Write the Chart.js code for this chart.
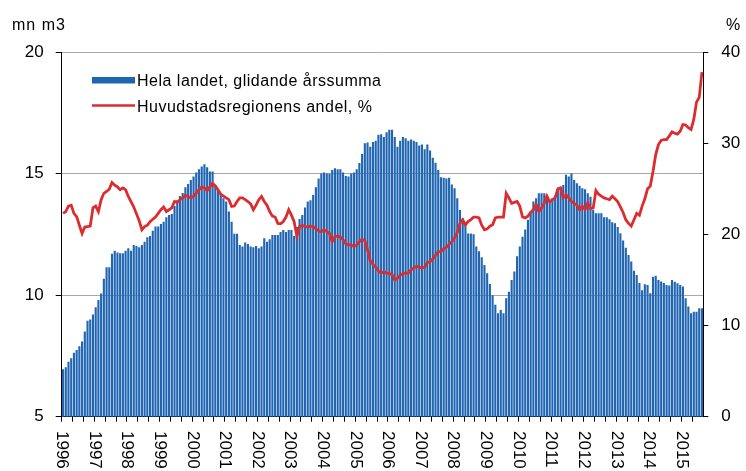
<!DOCTYPE html>
<html>
<head>
<meta charset="utf-8">
<script src="https://cdn.jsdelivr.net/npm/chart.js@4/dist/chart.umd.min.js"></script>
<style>
  html, body { margin: 0; padding: 0; background: #fff; }
</style>
</head>
<body>
<canvas id="chart" width="746" height="471"></canvas>
<script>
// year labels on the x axis (one per January)
const years = [1996, 1997, 1998, 1999, 2000, 2001, 2002, 2003, 2004, 2005,
               2006, 2007, 2008, 2009, 2010, 2011, 2012, 2013, 2014, 2015];

// Hela landet, glidande årssumma (mn m3), monthly 1996-01 .. 2015-08
const volym = [
  6.95, 7.03, 7.26, 7.4, 7.63, 7.74, 7.9, 8.09, 8.5, 8.95,
  9.0, 9.2, 9.5, 9.8, 10.07, 10.67, 11.15, 11.15, 11.7, 11.83,
  11.75, 11.72, 11.72, 11.83, 11.93, 11.83, 12.06, 12.02, 11.97, 12.06,
  12.2, 12.38, 12.43, 12.65, 12.82, 12.82, 12.93, 13.02, 13.2, 13.3,
  13.34, 13.67, 13.9, 14.08, 14.2, 14.44, 14.57, 14.74, 14.88, 15.04,
  15.18, 15.29, 15.38, 15.26, 15.08, 15.08, 14.53, 14.3, 14.12, 13.98,
  13.85, 13.44, 13.02, 12.52, 12.52, 12.06, 12.0, 12.16, 12.1, 12.0,
  11.97, 12.02, 11.93, 12.0, 12.34, 12.2, 12.3, 12.47, 12.47, 12.47,
  12.6, 12.68, 12.6, 12.68, 12.68, 12.43, 12.8, 13.13, 13.3, 13.6,
  13.85, 13.9, 14.12, 14.44, 14.8, 15.0, 15.04, 15.0, 14.99, 15.15,
  15.22, 15.18, 15.18, 15.04, 14.9, 14.88, 15.0, 15.04, 15.18, 15.43,
  15.8, 16.25, 16.28, 16.1, 16.3, 16.35, 16.6,
  16.62, 16.5, 16.7, 16.8, 16.8, 16.5, 16.1, 16.35, 16.5, 16.45,
  16.35, 16.4, 16.35, 16.3, 16.15, 16.2, 16.0, 16.2, 15.95, 15.65,
  15.45, 15.15, 14.85, 14.83, 14.8, 14.83, 14.55, 14.4, 13.98, 13.5,
  13.16, 12.9, 12.54, 12.54, 12.5, 12.0, 11.8, 11.56, 11.24, 10.9,
  10.46, 10.0, 9.6, 9.25, 9.39, 9.25, 9.87, 10.14, 10.62, 10.97,
  11.6, 12.0, 12.4, 12.7, 13.1, 13.44, 13.85, 13.98, 14.19, 14.19,
  14.19, 14.12, 13.9, 13.98, 14.1, 14.33, 14.4, 14.53, 14.95, 14.88,
  15.0, 14.74, 14.6, 14.5, 14.4, 14.35, 14.19, 14.05, 13.5, 13.37,
  13.37, 13.37, 13.2, 13.2, 13.12, 13.0, 12.96, 12.8, 12.55, 12.25,
  11.95, 11.65, 11.38, 11.0, 10.83, 10.5, 10.2, 10.45, 10.42, 10.08,
  10.76, 10.8, 10.62, 10.56, 10.5, 10.42, 10.4, 10.62, 10.55, 10.49,
  10.42, 10.35, 9.87, 9.53, 9.25, 9.32, 9.32, 9.46, 9.46
];

// Huvudstadsregionens andel, %
const andel = [
  22.3, 22.5, 23.1, 23.2, 22.3, 21.95, 21.0, 20.1, 20.8, 20.85,
  20.9, 22.9, 23.1, 22.5, 23.8, 24.5, 24.7, 24.95, 25.7, 25.4,
  25.2, 24.9, 25.1, 24.9, 24.15, 23.6, 23.0, 22.25, 21.5, 20.5,
  20.85, 21.0, 21.4, 21.66, 21.9, 22.3, 22.7, 23.0, 22.5, 22.7,
  22.9, 23.6, 23.5, 23.8, 24.0, 24.3, 24.15, 24.0, 24.2, 24.5,
  24.9, 25.2, 25.1, 24.8, 25.2, 25.6, 25.3, 24.9, 24.4, 24.2,
  24.0, 23.8, 23.05, 23.1, 23.6, 24.0, 24.0, 23.8, 23.6, 23.35,
  22.7, 23.2, 23.8, 24.15, 23.6, 23.2, 22.5, 22.0, 21.9, 21.2,
  21.15, 21.4, 21.9, 22.7, 22.1, 21.4, 19.8, 20.85, 21.0, 20.85,
  20.8, 20.9, 20.85, 20.6, 20.4, 20.3, 20.5, 20.3, 20.1, 19.2,
  19.75, 19.8, 19.7, 19.4, 18.95, 18.85, 18.85, 18.66, 18.85, 19.2,
  19.47, 19.3, 18.3, 17.1, 16.7, 16.4, 16.0,
  15.75, 15.9, 15.75, 15.7, 15.6, 15.0, 15.2, 15.5, 15.7, 15.75,
  15.75, 16.1, 16.3, 16.5, 16.4, 16.3, 16.4, 16.9, 17.0, 17.3,
  17.7, 18.1, 18.1, 18.4, 18.6, 18.9, 19.2, 19.6, 20.2, 21.2,
  21.6, 21.05, 21.4, 21.6, 21.9, 21.9, 21.8, 21.0, 20.5, 20.6,
  20.9, 21.05, 21.8, 21.9, 21.9, 21.9, 24.5, 24.0, 23.4, 23.5,
  23.6, 23.1, 21.9, 21.8, 22.0, 22.4, 22.7, 23.3, 22.5, 22.9,
  23.4, 24.2, 23.55, 23.8, 24.0, 25.0, 25.1, 24.0, 24.35, 24.0,
  23.6, 23.4, 23.2, 22.7, 23.1, 22.7, 23.45, 22.8, 22.9, 24.8,
  24.4, 24.2, 24.0, 23.9, 23.8, 24.2, 23.9, 23.6, 23.0, 22.4,
  21.6, 21.2, 20.9, 21.6, 22.3, 22.1, 23.1, 23.9, 25.0, 25.3,
  26.9, 28.75, 29.85, 30.3, 30.4, 30.4, 30.8, 31.25, 31.1, 31.0,
  31.3, 32.05, 32.0, 31.7, 31.5, 32.6, 34.5, 35.0, 37.8
];

const months = [];
years.forEach(y => { for (let m = 1; m <= 12; m++) months.push(y + '-' + m); });
const labels = months.slice(0, volym.length);

const FONT = '"Liberation Sans", Arial, sans-serif';
Chart.defaults.font.family = FONT;
Chart.defaults.color = '#000';

// year labels (rotated downwards), legend and axis units
const extras = {
  id: 'extras',
  afterDraw(chart) {
    const ctx = chart.ctx;
    const x = chart.scales.x;
    const half = (x.getPixelForValue(1) - x.getPixelForValue(0)) / 2;
    ctx.save();
    ctx.fillStyle = '#000';
    ctx.font = '17px ' + FONT;
    years.forEach((yr, k) => {
      const px = x.getPixelForValue(k * 12) - half;
      ctx.save();
      ctx.translate(px, 431);
      ctx.rotate(Math.PI / 2);
      ctx.textAlign = 'left';
      ctx.textBaseline = 'middle';
      ctx.fillText(String(yr), 0, 0);
      ctx.restore();
    });

    ctx.textBaseline = 'alphabetic';
    ctx.font = '16px ' + FONT;
    ctx.letterSpacing = '1px';
    ctx.fillText('mn m3', 12, 30);
    ctx.letterSpacing = '0px';
    ctx.fillText('%', 726, 30);

    // legend
    const ds = chart.data.datasets;
    ctx.fillStyle = ds[0].backgroundColor;
    ctx.fillRect(92, 77, 43, 6.5);
    ctx.strokeStyle = ds[1].borderColor;
    ctx.lineWidth = 2.6;
    ctx.beginPath();
    ctx.moveTo(92, 105.5);
    ctx.lineTo(135, 105.5);
    ctx.stroke();
    ctx.fillStyle = '#000';
    ctx.letterSpacing = '0.5px';
    ctx.fillText(ds[0].label, 137, 86);
    ctx.fillText(ds[1].label, 137, 112);
    ctx.restore();
  }
};

new Chart(document.getElementById('chart'), {
  type: 'bar',
  data: {
    labels: labels,
    datasets: [{
      label: 'Hela landet, glidande årssumma',
      data: volym,
      yAxisID: 'y',
      backgroundColor: '#1f65b2',
      barPercentage: 0.78,
      categoryPercentage: 1,
      order: 1
    }, {
      type: 'line',
      label: 'Huvudstadsregionens andel, %',
      data: andel,
      yAxisID: 'y2',
      borderColor: '#dd2c2f',
      borderWidth: 2.8,
      pointRadius: 0,
      tension: 0,
      order: 0
    }]
  },
  options: {
    responsive: false,
    animation: false,
    layout: { padding: { top: 52, left: 0, right: 0, bottom: 0 } },
    plugins: { legend: { display: false }, tooltip: { enabled: false } },
    scales: {
      x: {
        offset: true,
        grid: {
          offset: true,
          drawOnChartArea: false,
          tickLength: 5,
          color: c => (c.index !== undefined && c.index % 4 === 0) ? '#000' : 'rgba(0,0,0,0)'
        },
        border: { color: '#000' },
        ticks: { display: false, autoSkip: false },
        afterFit: s => { s.height = 54.3; }
      },
      y: {
        position: 'left',
        min: 5,
        max: 20,
        ticks: { stepSize: 5, padding: 12, font: { size: 17 } },
        grid: {
          color: c => (c.tick && c.tick.value === 5) ? 'rgba(0,0,0,0)' : '#a8a8a8',
          tickColor: '#000',
          tickLength: 6
        },
        border: { color: '#000' },
        afterFit: s => { s.width = 61.7; }
      },
      y2: {
        position: 'right',
        min: 0,
        max: 40,
        ticks: { stepSize: 10, padding: 13, font: { size: 17 } },
        grid: { drawOnChartArea: false, tickColor: '#000', tickLength: 5 },
        border: { color: '#000' },
        afterFit: s => { s.width = 42.7; }
      }
    }
  },
  plugins: [extras]
});
</script>
</body>
</html>
